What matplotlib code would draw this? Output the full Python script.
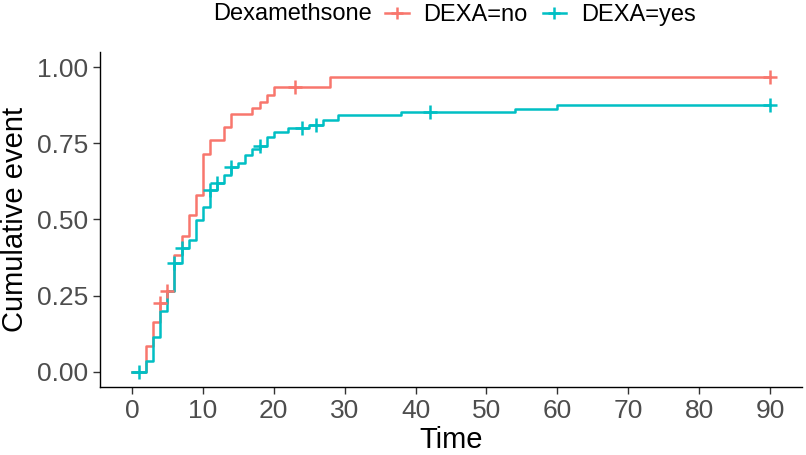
import numpy as np
import matplotlib
matplotlib.use("Agg")
import matplotlib.pyplot as plt
from matplotlib.lines import Line2D

plt.rcParams['font.family'] = ['Liberation Sans', 'DejaVu Sans']

# DEXA = no
no_times = [0, 2, 3, 4, 5, 6, 7, 8, 9, 10, 11, 13, 14, 17, 18, 19, 20, 28, 90]
no_cum = [0.0, 0.085, 0.165, 0.225, 0.266, 0.384, 0.447, 0.515, 0.58, 0.715,
          0.76, 0.804, 0.848, 0.867, 0.886, 0.91, 0.935, 0.968, 0.968]
no_censor = [4, 5, 23, 90]

# DEXA = yes
yes_times = [0, 2, 3, 4, 5, 6, 7, 8, 9, 10, 11, 12, 13, 14, 15, 16, 17, 18, 19,
             20, 22, 25, 27, 29, 38, 54, 60, 90]
yes_cum = [0.0, 0.036, 0.114, 0.198, 0.266, 0.357, 0.405, 0.433, 0.498, 0.54,
           0.597, 0.619, 0.646, 0.671, 0.684, 0.712, 0.733, 0.742, 0.772,
           0.786, 0.80, 0.81, 0.828, 0.843, 0.852, 0.863, 0.876, 0.876]
yes_censor = [1, 6, 7, 11, 12, 14, 18, 24, 26, 42, 90]

labels = ["DEXA=no", "DEXA=yes"]
colors = ["#F8766D", "#00BFC4"]
legend_title = "Dexamethsone"
x_ticks = [0, 10, 20, 30, 40, 50, 60, 70, 80, 90]
y_ticks = [0.0, 0.25, 0.5, 0.75, 1.0]

fig = plt.figure(figsize=(8.06, 4.55), dpi=100)
ax = fig.add_axes([100/806, 1-387/455, 702/806, 335/455])

def step_value(times, cum, t):
    i = np.searchsorted(times, t, side='right') - 1
    return cum[i]

series = [(no_times, no_cum, no_censor), (yes_times, yes_cum, yes_censor)]
for (t, c, cens), col in zip(series, colors):
    ax.step(t, c, where='post', color=col, lw=1.8, zorder=2)
    cy = [step_value(np.array(t), np.array(c), v) for v in cens]
    ax.plot(cens, cy, ls='none', marker='+', ms=10, mew=1.8, color=col, zorder=3)

ax.set_xlim(-4.5, 94.5)
ax.set_ylim(-0.05, 1.05)
ax.set_xticks(x_ticks)
ax.set_yticks(y_ticks)
ax.set_yticklabels([f"{v:.2f}" for v in y_ticks])
ax.tick_params(axis='both', labelsize=19, length=5, width=1,
               labelcolor='#4D4D4D', color='#333333')
for s in ['top', 'right']:
    ax.spines[s].set_visible(False)
for s in ['left', 'bottom']:
    ax.spines[s].set_linewidth(1.0)
    ax.spines[s].set_color('black')
ax.set_xlabel("Time", fontsize=21, labelpad=2)
ax.set_ylabel("Cumulative event", fontsize=21, labelpad=6)

handles = [Line2D([0], [0], color=col, lw=1.8, marker='+', ms=9, mew=1.8)
           for col in colors]
fig.text(213/806, 1-14/455, legend_title, fontsize=17, va='center', ha='left')
fig.legend(handles, labels, loc='center left', bbox_to_anchor=(385/806, 1-15/455),
           ncol=2, frameon=False, fontsize=17, handlelength=1.0,
           handletextpad=0.63, columnspacing=0.63, borderaxespad=0, borderpad=0)

fig.savefig("out.png", dpi=100)
